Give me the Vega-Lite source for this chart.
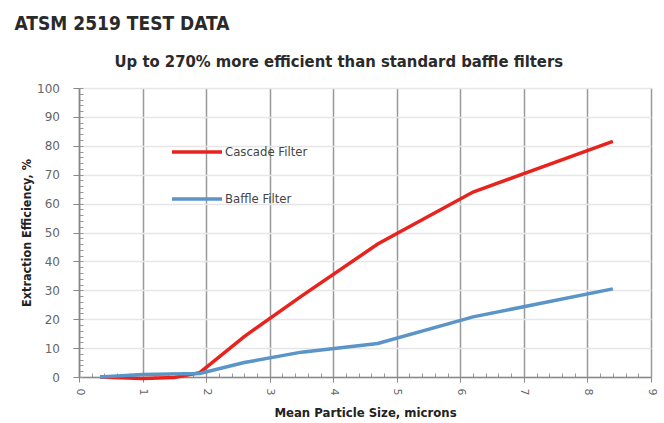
{
  "$schema": "https://vega.github.io/schema/vega-lite/v6.json",
  "background": "white",
  "padding": {"left": 14, "top": 14, "right": 6, "bottom": 0},
  "title": {
    "text": "ATSM 2519 TEST DATA",
    "anchor": "start",
    "frame": "bounds",
    "font": "Liberation Sans Narrow, DejaVu Sans Condensed, Roboto, sans-serif",
    "fontSize": 19,
    "fontWeight": "bold",
    "color": "#2a2a2a",
    "dx": -6,
    "offset": 20
  },
  "config": {
    "view": {"stroke": null},
    "font": "Liberation Sans Narrow, DejaVu Sans Condensed, Roboto, sans-serif"
  },
  "vconcat": [
    {
      "width": 572,
      "height": 289,
      "title": {
        "text": "Up to 270% more efficient than standard baffle filters",
        "anchor": "middle",
        "frame": "bounds",
        "font": "Liberation Sans Narrow, DejaVu Sans Condensed, Roboto, sans-serif",
        "fontSize": 16.5,
        "fontWeight": "bold",
        "color": "#2a2a2a",
        "offset": 12
      },
      "data": {
        "values": [
          {"series": "Cascade Filter", "size": 0.33, "eff": 0},
          {"series": "Cascade Filter", "size": 1.0, "eff": -0.5},
          {"series": "Cascade Filter", "size": 1.5, "eff": -0.2},
          {"series": "Cascade Filter", "size": 1.9, "eff": 1.5},
          {"series": "Cascade Filter", "size": 2.6, "eff": 14},
          {"series": "Cascade Filter", "size": 3.5, "eff": 28},
          {"series": "Cascade Filter", "size": 4.7, "eff": 46},
          {"series": "Cascade Filter", "size": 6.2, "eff": 64},
          {"series": "Cascade Filter", "size": 8.4, "eff": 81.5},
          {"series": "Baffle Filter", "size": 0.33, "eff": 0},
          {"series": "Baffle Filter", "size": 1.0, "eff": 0.9},
          {"series": "Baffle Filter", "size": 1.9, "eff": 1.2},
          {"series": "Baffle Filter", "size": 2.6, "eff": 5},
          {"series": "Baffle Filter", "size": 3.5, "eff": 8.6},
          {"series": "Baffle Filter", "size": 4.7, "eff": 11.6},
          {"series": "Baffle Filter", "size": 6.2, "eff": 20.8},
          {"series": "Baffle Filter", "size": 8.4, "eff": 30.5}
        ]
      },
      "resolve": {"axis": {"x": "independent", "y": "independent"}},
      "layer": [
        {
          "mark": {"type": "line", "strokeOpacity": 0},
          "encoding": {
            "x": {
              "field": "size", "type": "quantitative",
              "scale": {"domain": [0, 9], "nice": false},
              "axis": {
                "orient": "bottom",
                "title": null, "labels": false, "grid": false, "domain": false,
                "tickCount": 45, "tickSize": -4, "tickColor": "#999999", "tickWidth": 1
              }
            },
            "y": {
              "field": "eff", "type": "quantitative",
              "scale": {"domain": [0, 100], "nice": false},
              "axis": {
                "orient": "left",
                "title": null, "labels": false, "grid": false, "domain": false,
                "tickCount": 50, "tickSize": -4, "tickColor": "#999999", "tickWidth": 1
              }
            }
          }
        },
        {
          "mark": {"type": "line", "strokeWidth": 3.5},
          "encoding": {
            "x": {
              "field": "size", "type": "quantitative",
              "scale": {"domain": [0, 9], "nice": false},
              "axis": {
                "orient": "bottom",
                "title": "Mean Particle Size, microns",
                "values": [0, 1, 2, 3, 4, 5, 6, 7, 8, 9],
                "labelAngle": 90,
                "grid": true, "gridColor": "#999999", "gridWidth": 1.5,
                "tickColor": "#888888", "tickSize": 5,
                "domainColor": "#888888", "domainWidth": 1.5,
                "labelFont": "DejaVu Sans", "labelFontSize": 11, "labelColor": "#666666",
                "labelPadding": 6,
                "titleFont": "Liberation Sans Narrow, DejaVu Sans Condensed, Roboto, sans-serif", "titleFontSize": 13,
                "titleFontWeight": "bold", "titleColor": "#222222", "titlePadding": 12
              }
            },
            "y": {
              "field": "eff", "type": "quantitative",
              "scale": {"domain": [0, 100], "nice": false},
              "axis": {
                "orient": "left",
                "title": "Extraction Efficiency, %",
                "values": [0, 10, 20, 30, 40, 50, 60, 70, 80, 90, 100],
                "grid": true, "gridColor": "#e6e6e6", "gridWidth": 1.5,
                "tickColor": "#888888", "tickSize": 6,
                "domainColor": "#888888", "domainWidth": 1.5,
                "labelFont": "DejaVu Sans", "labelFontSize": 12, "labelColor": "#666666",
                "labelPadding": 13.5,
                "titleFont": "Liberation Sans Narrow, DejaVu Sans Condensed, Roboto, sans-serif", "titleFontSize": 12.5,
                "titleFontWeight": "bold", "titleColor": "#222222", "titlePadding": 3
              }
            },
            "color": {
              "field": "series", "type": "nominal",
              "scale": {"domain": ["Cascade Filter", "Baffle Filter"], "range": ["#e8231d", "#5b94c6"]},
              "legend": {
                "title": null,
                "orient": "none",
                "legendX": 91,
                "legendY": 37,
                "symbolType": "stroke",
                "symbolSize": 2500,
                "symbolStrokeWidth": 3.5,
                "labelFont": "Liberation Sans Narrow, DejaVu Sans Condensed, Roboto, sans-serif",
                "labelFontSize": 13,
                "labelColor": "#444444",
                "labelOffset": 1,
                "rowPadding": 13
              }
            }
          }
        }
      ]
    }
  ]
}
